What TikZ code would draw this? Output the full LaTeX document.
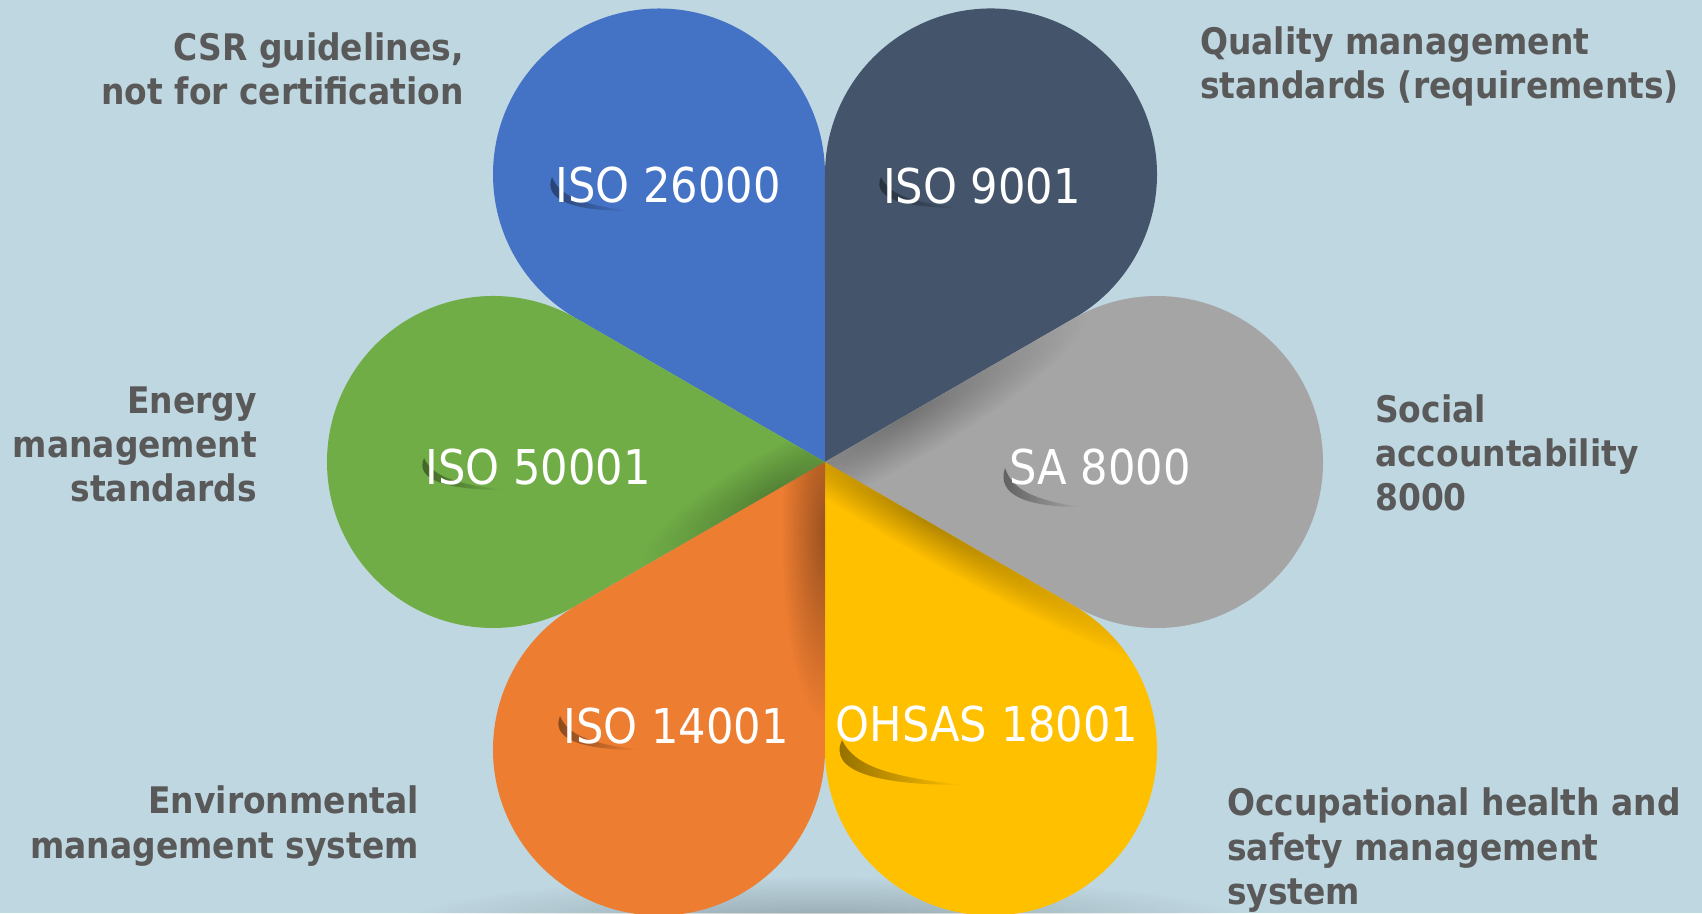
\documentclass[tikz,border=0pt]{standalone}
\usepackage{fontspec}
\setmainfont{DejaVu Sans}[FakeStretch=0.9]
\usetikzlibrary{fadings,calc}
\definecolor{bgc}{HTML}{BFD7E1}
\definecolor{bluep}{HTML}{4472C4}
\definecolor{navyp}{HTML}{44546A}
\definecolor{grayp}{HTML}{A5A5A5}
\definecolor{greenp}{HTML}{70AD47}
\definecolor{orangep}{HTML}{ED7D31}
\definecolor{yellowp}{HTML}{FFC000}
\definecolor{labelc}{HTML}{595959}
\tikzfading[name=softspot, inner color=transparent!0, outer color=transparent!100]
\tikzset{
  petal/.style={insert path={(C) -- ++({#1-30}:287.5bp) arc[start angle={#1-120}, end angle={#1+120}, radius=166bp] -- cycle}},
  outer/.style={font=\fontsize{36.6bp}{44bp}\selectfont\bfseries, text=labelc, inner sep=0pt},
  inner/.style={font=\fontsize{48bp}{56bp}\selectfont, text=white, inner sep=0pt, anchor=base},
}
\newcommand\swoosh[5]{% x y w h color
  \shade[left color=#5!55!black, right color=#5]
    (#1,#2) .. controls ({#1-0.12*#3},{#2-0.7*#4}) and ({#1+0.3*#3},{#2-1.0*#4}) .. ({#1+#3},{#2-#4})
    .. controls ({#1+0.35*#3},{#2-0.8*#4}) and ({#1+0.1*#3},{#2-0.55*#4}) .. (#1,#2) -- cycle;}
\newcommand\fold[6]{% petal angle, edge angle, distance, half length, half width, opacity
  \begin{scope}
    \clip[petal=#1];
    \begin{scope}[transform canvas={rotate around={#2:(C)}}]
      \fill[black, opacity=#6, path fading=softspot] ($(C)+(#3bp,0)$) ellipse [x radius=#4bp, y radius=#5bp];
    \end{scope}
  \end{scope}}
\begin{document}
\begin{tikzpicture}[x=1bp, y=1bp]
  \useasboundingbox (0,0) rectangle (1702,913);
  \fill[bgc] (0,0) rectangle (1702,913);
  \coordinate (C) at (825,451);
  % soft shadow at the bottom
  \fill[black, opacity=.22, path fading=softspot] (825,-8) ellipse [x radius=420bp, y radius=45bp];
  % petals
  \fill[bluep, petal=120];
  \fill[navyp, petal=60];
  \fill[grayp, petal=0];
  \fill[greenp, petal=180];
  \fill[orangep, petal=240];
  \fill[yellowp, petal=300];
  % folds near the centre
  \fold{240}{270}{70}{190}{44}{.35}
  \fold{0}{30}{90}{210}{44}{.3}
  \fold{300}{330}{120}{280}{34}{.3}
  \fold{180}{210}{60}{150}{40}{.25}
  % label shadows
  \swoosh{552}{736}{78}{34}{bluep}
  \swoosh{881}{736}{79}{31}{navyp}
  \swoosh{424}{455}{81}{32}{greenp}
  \swoosh{1005}{445}{75}{39}{grayp}
  \swoosh{560}{197}{80}{34}{orangep}
  \swoosh{842}{173}{120}{45}{yellowp}
  % petal labels
  \node[inner] (iso26) at (668,710) {ISO 26000};
  \node[inner] (iso9) at (982,709) {ISO 9001};
  \node[inner] (iso50) at (538,428) {ISO 50001};
  \node[inner] (sa) at (1100,428) {SA 8000};
  \node[inner] (iso14) at (676,169) {ISO 14001};
  \node[inner] (ohsas) at (987,171) {OHSAS 18001};
  % outer labels (anchor at baseline of last line)
  \node[outer, anchor=base east, align=right] (csr) at (464,808) {CSR guidelines,\\not for certification};
  \node[outer, anchor=base west, align=left] (qual) at (1200,814) {Quality management\\standards (requirements)};
  \node[outer, anchor=base east, align=right] (energy) at (257,411) {Energy\\management\\standards};
  \node[outer, anchor=base west, align=left] (social) at (1375,402) {Social\\accountability\\8000};
  \node[outer, anchor=base east, align=right] (env) at (419,55) {Environmental\\management system};
  \node[outer, anchor=base west, align=left] (occ) at (1227,9) {Occupational health and\\safety management\\system};
\end{tikzpicture}
\end{document}
